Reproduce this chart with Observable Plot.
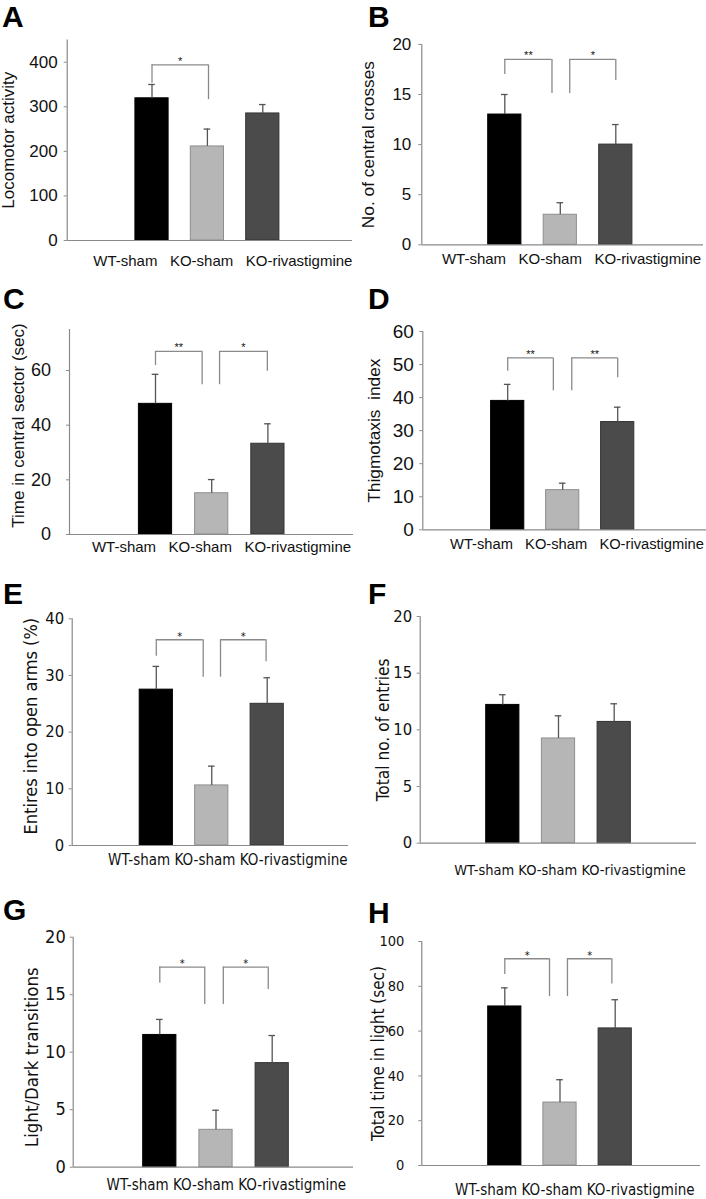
<!DOCTYPE html>
<html><head><meta charset="utf-8">
<script src="https://cdn.jsdelivr.net/npm/d3@7"></script>
<script src="https://cdn.jsdelivr.net/npm/@observablehq/plot@0.6"></script>
<style>
body{margin:0;background:#fff;}
#fig{position:relative;width:706px;height:1199px;overflow:hidden;background:#fff;}
.panel{position:absolute;}
.panel svg{overflow:visible;display:block;}
#letters{position:absolute;left:0;top:0;}
</style></head><body><div id="fig"></div>
<script>
// ---- data ----
const groups = ["WT-sham", "KO-sham", "KO-rivastigmine"];

const locomotorActivity = [319, 211, 285];
const locomotorActivitySem = [31, 39, 20];
const centralCrosses = [13, 3, 10];
const centralCrossesSem = [2, 1.2, 2];
const timeCentral = [47.8, 15.1, 33.2];
const timeCentralSem = [10.8, 5.0, 7.3];
const thigmotaxis = [39, 12, 32.6];
const thigmotaxisSem = [5, 2.1, 4.5];
const openArmEntries = [27.5, 10.6, 25.0];
const openArmEntriesSem = [4.1, 3.4, 4.6];
const totalEntries = [12.2, 9.24, 10.7];
const totalEntriesSem = [0.9, 2.0, 1.6];
const lightDark = [11.5, 3.25, 9.05];
const lightDarkSem = [1.35, 1.7, 2.4];
const timeLight = [71, 28.1, 61.2];
const timeLightSem = [8.3, 10.2, 12.8];

const ticksA = [0, 100, 200, 300, 400];
const ticksB = [0, 5, 10, 15, 20];
const ticksC = [0, 20, 40, 60];
const ticksD = [0, 10, 20, 30, 40, 50, 60];
const ticksE = [0, 10, 20, 30, 40];
const ticksF = [0, 5, 10, 15, 20];
const ticksG = [0, 5, 10, 15, 20];
const ticksH = [0, 20, 40, 60, 80, 100];

// significance brackets: [leftLegPos, rightLegPos, top, leftLegBottom, rightLegBottom, label]
const sigA = [[0, 1.02, 394, 353, 316, "*"]];
const sigB = [[0, 0.85, 18.5, 17.0, 15.1, "**"], [1.17, 2, 18.5, 15.1, 16.4, "*"]];
const sigC = [[0, 0.83, 67, 61.8, 54.8, "**"], [1.14, 1.99, 67, 54.8, 59.7, "*"]];
const sigD = [[0, 0.83, 52, 48, 42.1, "**"], [1.165, 2, 52, 42.1, 46, "**"]];
const sigE = [[0, 0.846, 36.3, 33.4, 29.7, "*"], [1.158, 1.98, 36.3, 29.7, 32.4, "*"]];
const sigF = [];
const sigG = [[0, 0.8, 17.4, 16.0, 14.15, "*"], [1.13, 1.93, 17.4, 14.15, 15.45, "*"]];
const sigH = [[0, 0.81, 92.3, 85.3, 75.4, "*"], [1.135, 1.94, 92.3, 75.4, 81.0, "*"]];

// ---- styles ----
const barFill = ["#000000", "#b6b6b6", "#4b4b4b"];
const barStroke = ["#000000", "#8e8e8e", "#333333"];
const ARIAL = "'Liberation Sans', Arial, Helvetica, sans-serif";
const TAHOMA = "'DejaVu Sans Condensed', 'DejaVu Sans', Verdana, sans-serif";

const panels = [
  {letter:"A", lx:2, ly:27, left:0, top:0, w:353, h:280, axisLeft:66.7, axisRight:352, yTopPx:39.4, yZeroPx:240, c0:151.5, step:55.4,
   yMax:450, ticks:ticksA, values:locomotorActivity, sem:locomotorActivitySem, sig:sigA, fam:ARIAL, tickPad:6.5, tickFont:17,
   title:"Locomotor activity", titleX:8, titleDy:0, titleFont:17, labelFont:15, labelDx:13.0, labelDy:21, sep:"\u00a0\u00a0\u00a0"},
  {letter:"B", lx:368, ly:27, left:353, top:0, w:353, h:280, axisLeft:68.3, axisRight:350, yTopPx:43.9, yZeroPx:244.3, c0:151.3, step:55.5,
   yMax:20, ticks:ticksB, values:centralCrosses, sem:centralCrossesSem, sig:sigB, fam:ARIAL, tickPad:7.5, tickFont:17,
   title:"No. of central crosses", titleX:14.5, titleDy:0, titleFont:17.3, labelFont:15, labelDx:8.9, labelDy:14, sep:"\u00a0\u00a0\u00a0"},
  {letter:"C", lx:3, ly:309, left:0, top:280, w:353, h:300, axisLeft:69, axisRight:353, yTopPx:49, yZeroPx:254, c0:155, step:56.2,
   yMax:75, ticks:ticksC, values:timeCentral, sem:timeCentralSem, sig:sigC, fam:ARIAL, tickPad:15.5, tickFont:18,
   title:"Time in central sector (sec)", titleX:18.5, titleDy:-6.5, titleFont:17, labelFont:15, labelDx:10.0, labelDy:12.7, sep:"\u00a0\u00a0\u00a0"},
  {letter:"D", lx:368, ly:309, left:353, top:280, w:353, h:300, axisLeft:69.3, axisRight:353, yTopPx:51, yZeroPx:249.3, c0:154.2, step:55,
   yMax:60, ticks:ticksD, values:thigmotaxis, sem:thigmotaxisSem, sig:sigD, fam:ARIAL, tickPad:6, tickFont:19,
   title:"Thigmotaxis\u00a0\u00a0index", titleX:20.5, titleDy:0, titleFont:17.3, labelFont:14.7, labelDx:12.3, labelDy:14, sep:"\u00a0\u00a0\u00a0"},
  {letter:"E", lx:3, ly:604, left:0, top:580, w:353, h:310, axisLeft:71.7, axisRight:348, yTopPx:38.3, yZeroPx:265, c0:155.8, step:55.45,
   yMax:40, ticks:ticksE, values:openArmEntries, sem:openArmEntriesSem, sig:sigE, fam:TAHOMA, tickPad:5, tickFont:16.5,
   title:"Entires into open arms (%)", titleX:31, titleDy:-6, titleFont:18, labelFont:15, labelDx:17.5, labelDy:15, sep:"\u00a0"},
  {letter:"F", lx:368, ly:604, left:353, top:580, w:353, h:310, axisLeft:66.7, axisRight:343, yTopPx:36, yZeroPx:262.7, c0:149.3, step:55.7,
   yMax:20, ticks:ticksF, values:totalEntries, sem:totalEntriesSem, sig:sigF, fam:TAHOMA, tickPad:5, tickFont:16.5,
   title:"Total no. of entries", titleX:29.5, titleDy:0, titleFont:17.2, labelFont:14.5, labelDx:11.6, labelDy:27, sep:"\u00a0"},
  {letter:"G", lx:3, ly:920, left:0, top:890, w:353, h:309, axisLeft:72.7, axisRight:353, yTopPx:46.7, yZeroPx:276.7, c0:159.3, step:56.2,
   yMax:20, ticks:ticksG, values:lightDark, sem:lightDarkSem, sig:sigG, fam:TAHOMA, tickPad:4.5, tickFont:18,
   title:"Light/Dark transitions", titleX:32, titleDy:5, titleFont:18.5, labelFont:15, labelDx:13, labelDy:18, sep:"\u00a0"},
  {letter:"H", lx:368, ly:923, left:353, top:890, w:353, h:309, axisLeft:68.3, axisRight:347, yTopPx:51, yZeroPx:275, c0:151.3, step:55.2,
   yMax:100, ticks:ticksH, values:timeLight, sem:timeLightSem, sig:sigH, fam:TAHOMA, tickPad:14.5, tickFont:14.5,
   title:"Total time in light (sec)", titleX:25.5, titleDy:0, titleFont:17, labelFont:15, labelDx:13.7, labelDy:25, sep:"\u00a0"}
];

const fig = document.getElementById("fig");
const AXIS = "#8a8a8a", ERR = "#555555", BRK = "#8a8a8a", INK = "#111111";

for (const p of panels) {
  const data = groups.map((g, i) => ({group: g, i, value: p.values[i], sem: p.sem[i]}));
  const xd = [(p.axisLeft - p.c0) / p.step, (p.axisRight - p.c0) / p.step];
  const half = 16.6 / p.step, cap = 3.3 / p.step;
  const legs = [], bars = [], stars = [];
  for (const [a, b, top, ba, bb, lab] of p.sig) {
    legs.push({x: a, y1: top, y2: ba}, {x: b, y1: top, y2: bb});
    bars.push({x1: a, x2: b, y: top});
    stars.push({x: (a + b) / 2, y: top, label: lab});
  }
  const chart = Plot.plot({
    width: p.w, height: p.h,
    marginLeft: p.axisLeft, marginRight: p.w - p.axisRight,
    marginTop: p.yTopPx, marginBottom: p.h - p.yZeroPx,
    x: {type: "linear", domain: xd, axis: null},
    y: {domain: [0, p.yMax], axis: null},
    color: {type: "identity"},
    style: {fontFamily: p.fam, background: "transparent", overflow: "visible", color: INK},
    marks: [
      Plot.rect(data, {x1: d => d.i - half, x2: d => d.i + half, y1: 0, y2: "value",
        fill: d => barFill[d.i], stroke: d => barStroke[d.i], strokeWidth: 1}),
      Plot.ruleX(data, {x: "i", y1: "value", y2: d => d.value + d.sem, stroke: ERR, strokeWidth: 1.3}),
      Plot.ruleY(data, {x1: d => d.i - cap, x2: d => d.i + cap, y: d => d.value + d.sem, stroke: ERR, strokeWidth: 1.3}),
      Plot.ruleX(legs, {x: "x", y1: "y1", y2: "y2", stroke: BRK, strokeWidth: 1.3}),
      Plot.ruleY(bars, {x1: "x1", x2: "x2", y: "y", stroke: BRK, strokeWidth: 1.3}),
      Plot.text(stars, {x: "x", y: "y", text: "label", fontSize: 11, dy: -3.5, fill: INK}),
      Plot.ruleX([xd[0]], {stroke: AXIS, strokeWidth: 1.2}),
      Plot.ruleY([0], {stroke: AXIS, strokeWidth: 1.2}),
      Plot.axisY(p.ticks, {anchor: "left", tickSize: 3, tickPadding: p.tickPad, fontSize: p.tickFont,
        stroke: AXIS, fill: INK, label: null, tickFormat: d => String(d)}),
      Plot.text([groups.join(p.sep)], {text: d => d, frameAnchor: "bottom", textAnchor: "middle", lineAnchor: "middle",
        dx: p.labelDx, dy: p.labelDy, fontSize: p.labelFont, fill: INK}),
      Plot.text([p.title], {text: d => d, frameAnchor: "left", textAnchor: "middle", lineAnchor: "middle", rotate: -90,
        dx: p.titleX - p.axisLeft, dy: p.titleDy, fontSize: p.titleFont, fill: INK})
    ]
  });
  const div = document.createElement("div");
  div.className = "panel";
  div.style.left = p.left + "px";
  div.style.top = p.top + "px";
  div.appendChild(chart);
  fig.appendChild(div);
}

// panel letters
const svg = d3.select(fig).append("svg").attr("id", "letters").attr("width", 706).attr("height", 1199);
svg.selectAll("text").data(panels).join("text")
  .attr("x", d => d.lx).attr("y", d => d.ly)
  .attr("font-family", ARIAL).attr("font-weight", "bold").attr("font-size", 30)
  .attr("fill", "#000").text(d => d.letter);
</script>
</body></html>
